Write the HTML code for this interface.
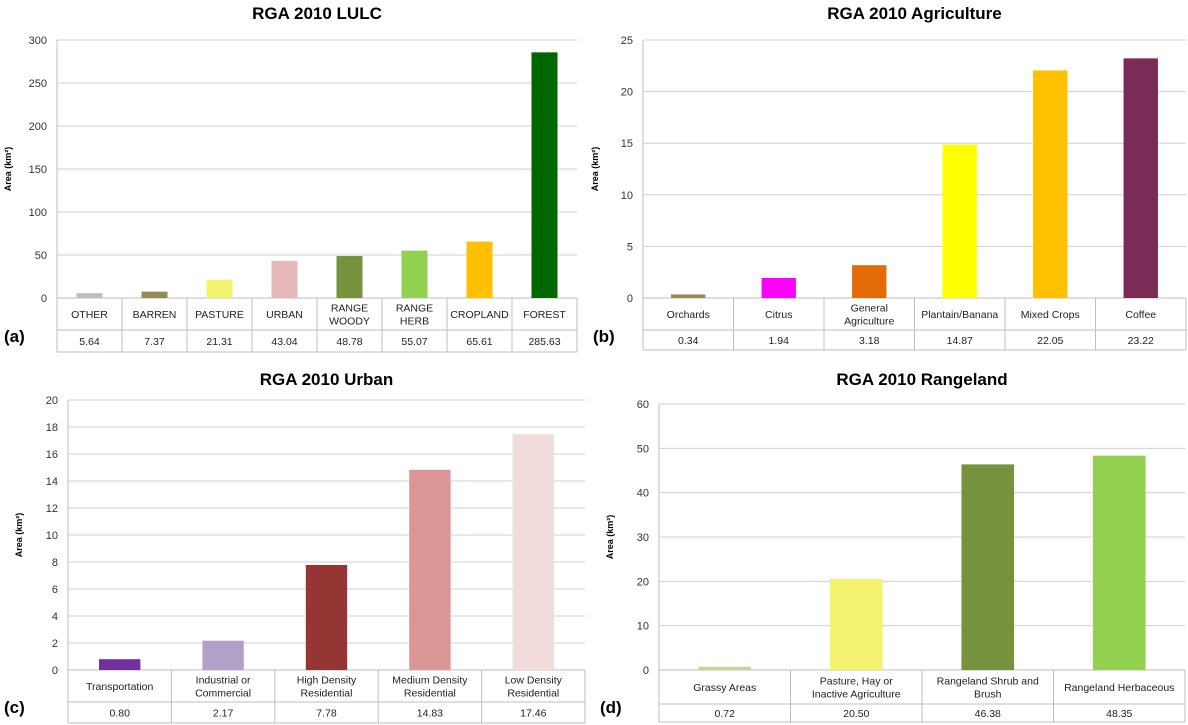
<!DOCTYPE html>
<html><head><meta charset="utf-8"><style>
body{margin:0;background:#fff;}
svg{display:block;font-family:"Liberation Sans",sans-serif;}
</style></head><body>
<svg id="c" width="1188" height="725" viewBox="0 0 1188 725"></svg>
<script>
const catsA=["OTHER","BARREN","PASTURE","URBAN","RANGE|WOODY","RANGE|HERB","CROPLAND","FOREST"];
const valsA=[5.64,7.37,21.31,43.04,48.78,55.07,65.61,285.63];
const labA=["5.64","7.37","21.31","43.04","48.78","55.07","65.61","285.63"];
const ticksA=[0,50,100,150,200,250,300];
const catsB=["Orchards","Citrus","General|Agriculture","Plantain/Banana","Mixed Crops","Coffee"];
const valsB=[0.34,1.94,3.18,14.87,22.05,23.22];
const labB=["0.34","1.94","3.18","14.87","22.05","23.22"];
const ticksB=[0,5,10,15,20,25];
const catsC=["Transportation","Industrial or|Commercial","High Density|Residential","Medium Density|Residential","Low Density|Residential"];
const valsC=[0.80,2.17,7.78,14.83,17.46];
const labC=["0.80","2.17","7.78","14.83","17.46"];
const ticksC=[0,2,4,6,8,10,12,14,16,18,20];
const catsD=["Grassy Areas","Pasture, Hay or|Inactive Agriculture","Rangeland Shrub and|Brush","Rangeland Herbaceous"];
const valsD=[0.72,20.50,46.38,48.35];
const labD=["0.72","20.50","46.38","48.35"];
const ticksD=[0,10,20,30,40,50,60];

const svg=document.getElementById('c');
const NS="http://www.w3.org/2000/svg";
function mk(t,a,p){const e=document.createElementNS(NS,t);for(const k in a)e.setAttribute(k,a[k]);(p||svg).appendChild(e);return e;}
function txt(s,x,y,a,p){const e=mk('text',a,p);e.setAttribute('x',x);e.setAttribute('y',y);e.textContent=s;return e;}

function panel(o){
  const g=mk('g',{});
  
  
  const max=o.ticks[o.ticks.length-1];
  const y=v=>o.y0-(v/max)*(o.y0-o.yTop);
  const cw=(o.x1-o.x0)/o.cats.length;
  const t=txt(o.title,(o.x0+o.x1)/2,o.titleY,{'font-size':'17','font-weight':'bold','text-anchor':'middle',fill:'#000'},g);
  
  o.ticks.forEach(tv=>{
    if(tv>0){const l=mk('line',{x1:o.x0,x2:o.x1,y1:y(tv),y2:y(tv),stroke:'#d0d0d0','stroke-width':1},g);
      }
    const tl=txt(String(tv),o.x0-10,y(tv)+4,{'font-size':'11','text-anchor':'end',fill:'#333'},g);
    
  });
  const yt=txt('Area (km²)',0,0,{'font-size':'9','font-weight':'bold','text-anchor':'middle',fill:'#000',transform:`translate(${o.ytX},${(o.y0+o.yTop)/2}) rotate(-90)`},g);
  
  const r1=o.y0+o.row1, r2=r1+o.row2;
  mk('line',{x1:o.x0,x2:o.x1,y1:o.y0,y2:o.y0,stroke:'#bfbfbf'},g);
  mk('line',{x1:o.x0,x2:o.x1,y1:r1,y2:r1,stroke:'#bfbfbf'},g);
  mk('line',{x1:o.x0,x2:o.x1,y1:r2,y2:r2,stroke:'#bfbfbf'},g);
  for(let i=0;i<=o.cats.length;i++){const x=o.x0+i*cw;mk('line',{x1:x,x2:x,y1:i==0?o.yTop:o.y0,y2:r2,stroke:'#bfbfbf'},g);}
  o.cats.forEach((c,i)=>{
    const cx=o.x0+(i+0.5)*cw;
    const b=mk('rect',{x:cx-cw*o.bw/2,y:y(o.vals[i]),width:cw*o.bw,height:o.y0-y(o.vals[i]),fill:o.colors[i]},g);
    
    
    const parts=c.split('|');
    parts.forEach((p,j)=>{const tt=txt(p,cx,o.y0+o.row1/2+4+(j-(parts.length-1)/2)*13,{'font-size':'10.5','text-anchor':'middle',fill:'#222'},g);
      });
    const vt=txt(o.labs[i],cx,r1+o.row2/2+4,{'font-size':'10.5','text-anchor':'middle',fill:'#222'},g);
    
  });
  const pl=txt(o.letter,o.lx,o.ly,{'font-size':'17','font-weight':'bold',fill:'#000'},g);
  
}
panel({id:'lulc',title:'RGA 2010 LULC',cats:catsA,vals:valsA,labs:labA,ticks:ticksA,x0:57,x1:577,yTop:40,y0:298,row1:32,row2:22,titleY:19,ytX:11,bw:0.4,letter:'(a)',lx:4,ly:342,
 colors:['#bfbfbf','#948a54','#f3f36f','#e6b8b7','#76923c','#92d050','#ffc000','#006600']});
panel({id:'agriculture',title:'RGA 2010 Agriculture',cats:catsB,vals:valsB,labs:labB,ticks:ticksB,x0:643,x1:1186,yTop:40,y0:298,row1:32,row2:20,titleY:19,ytX:598,bw:0.38,letter:'(b)',lx:593,ly:342,
 colors:['#948a54','#ff00ff','#e36c09','#ffff00','#ffc000','#7b2c56']});
panel({id:'urban',title:'RGA 2010 Urban',cats:catsC,vals:valsC,labs:labC,ticks:ticksC,x0:68,x1:585,yTop:400,y0:670,row1:32,row2:21,titleY:385,ytX:22,bw:0.4,letter:'(c)',lx:4,ly:713,
 colors:['#7030a0','#b1a0c7','#963634','#da9694','#f2dcdb']});
panel({id:'rangeland',title:'RGA 2010 Rangeland',cats:catsD,vals:valsD,labs:labD,ticks:ticksD,x0:659,x1:1185,yTop:404,y0:670,row1:34,row2:18,titleY:385,ytX:613,bw:0.4,letter:'(d)',lx:600,ly:713,
 colors:['#c4d79b','#f3f36f','#76923c','#92d050']});
</script>
</body></html>
